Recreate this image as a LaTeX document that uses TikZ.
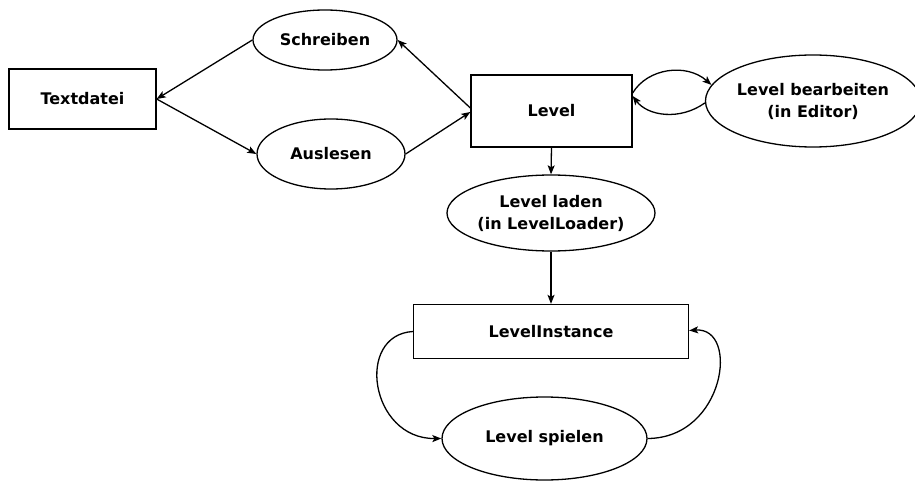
\documentclass[tikz,border=0pt]{standalone}
\usepackage{fontspec}
\setmainfont{DejaVu Sans}
\usetikzlibrary{shapes.geometric,arrows.meta}
\begin{document}
\begin{tikzpicture}[x=1pt,y=-1pt,
  every node/.style={font=\fontsize{16}{22}\selectfont\bfseries, align=center, inner sep=0pt, draw=black, line width=1.3pt},
  box/.style={rectangle},
  ell/.style={ellipse},
  arr/.style={line width=1.3pt, -{Stealth[length=9pt,width=7pt,inset=2pt]}}]
\useasboundingbox (0,0) rectangle (915,481);
\node[box, minimum width=147pt, minimum height=60pt] (T) at (82.5,99) {Textdatei};
\node[ell, minimum width=144pt, minimum height=60pt] (S) at (325,40) {Schreiben};
\node[ell, minimum width=148pt, minimum height=70pt] (A) at (331,154) {Auslesen};
\node[box, minimum width=161pt, minimum height=72pt] (L) at (551.5,111) {Level};
\node[ell, minimum width=201pt, minimum height=92pt] (B) at (813,101) {Level bearbeiten\\(in Editor)};
\node[ell, minimum width=205pt, minimum height=76pt] (LL) at (551,213) {Level laden\\(in LevelLoader)};
\node[box, minimum width=275pt, minimum height=54pt] (LI) at (551,331.5) {LevelInstance};
\node[ell, minimum width=205pt, minimum height=83pt] (LS) at (544.5,438.5) {Level spielen};

\draw[arr] (S.west) -- (T.east);
\draw[arr] (T.east) -- (A.west);
\draw[arr] (A.east) -- ([yshift=-1pt]L.west);
\draw[arr] ([yshift=3pt]L.west) -- (S.east);
\draw[arr] ([yshift=18pt]L.east) .. controls +(15,-25) and +(-25,-22) .. (B.171);
\draw[arr] (B.181) .. controls +(-25,18) and +(15,20) .. ([yshift=15pt]L.east);
\draw[arr] (L.south) -- (LL.north);
\draw[arr] (LL.south) -- (LI.north);
\draw[arr] (LI.west) .. controls (355,335) and (370,439) .. (LS.west);
\draw[arr] (LS.east) .. controls (725,438) and (740,327) .. ([yshift=1pt]LI.east);
\end{tikzpicture}
\end{document}
